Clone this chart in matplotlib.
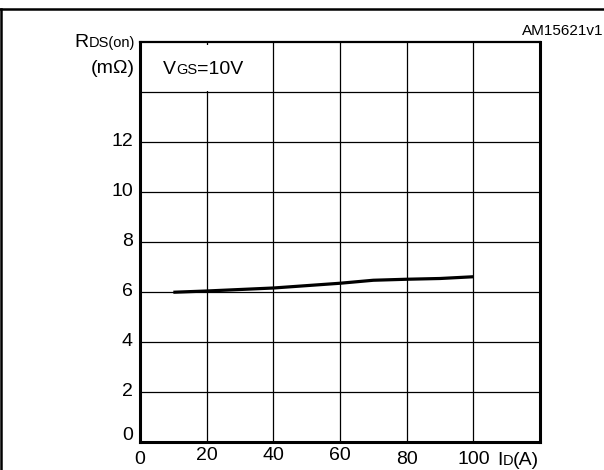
import matplotlib.pyplot as plt
from matplotlib.patches import Rectangle
from matplotlib.lines import Line2D

plt.rcParams['font.family'] = ['Liberation Sans', 'DejaVu Sans']

# curve
id_amps = [10, 20, 40, 60, 70, 80, 90, 100]
rds_on = [5.99, 6.04, 6.16, 6.35, 6.47, 6.51, 6.54, 6.61]

x_ticks = [0, 20, 40, 60, 80, 100, 120]
x_labels = ['0', '20', '40', '60', '80', '100', '']
x_label_shift = [0, 5, 5, 5, 0, 0, 0]  # a few labels sit slightly higher
y_ticks = [0, 2, 4, 6, 8, 10, 12, 14, 16]
y_labels = ['0', '2', '4', '6', '8', '10', '12', '', '']

W, H = 604, 470
BIG, SMALL = 14, 10.5
fig = plt.figure(figsize=(W / 100, H / 100), dpi=100)
renderer = fig.canvas.get_renderer()


def mixed(parts, x_px, y_px, ha='left'):
    # pieces of text in two sizes set one after another on one baseline
    texts = [fig.text(0, 1 - y_px / H, s, fontsize=size, va='baseline', zorder=3)
             for s, size in parts]
    widths = [t.get_window_extent(renderer).width for t in texts]
    x = x_px - sum(widths) if ha == 'right' else x_px
    for t, w in zip(texts, widths):
        t.set_x(x / W)
        x += w


# outer frame of the figure panel
fig.add_artist(Line2D([0, 1], [1 - 9 / H, 1 - 9 / H], color='black', lw=1.8))
fig.add_artist(Line2D([1.2 / W, 1.2 / W], [0, 1 - 9 / H], color='black', lw=1.8))
# cut-off caption above the panel
fig.text(46 / W, 1 + 5 / H, 'Figure', fontsize=14, fontweight='bold', va='baseline')

ax = fig.add_axes([140 / W, 28 / H, 400 / W, 400 / H])
ax.set_xlim(0, 120)
ax.set_ylim(0, 16)

for x in x_ticks[1:-1]:
    ax.axvline(x, color='black', lw=0.9, zorder=1)
for y in y_ticks[1:-1]:
    ax.axhline(y, color='black', lw=0.9, zorder=1)

# white label box that hides the grid in the corner
ax.add_patch(Rectangle((2.4, 14.05), 35.1, 1.85, facecolor='white',
                       edgecolor='none', zorder=2))

ax.plot(id_amps, rds_on, color='black', lw=2.3, solid_capstyle='butt', zorder=4)

ax.set_xticks([])
ax.set_yticks([])
for side in ['left', 'bottom', 'right']:
    ax.spines[side].set_linewidth(2.2)
ax.spines['top'].set_linewidth(1.6)

for x, lab, dy in zip(x_ticks, x_labels, x_label_shift):
    ax.annotate(lab, xy=(x, 0), xycoords='data', xytext=(0, -18 + dy),
                textcoords='offset pixels', ha='center', va='center', fontsize=BIG)
for y, lab in zip(y_ticks, y_labels):
    off = 6 if y == 0 else 0
    ax.annotate(lab, xy=(0, y), xycoords='data', xytext=(-7, off),
                textcoords='offset pixels', ha='right', va='center', fontsize=BIG)

mixed([('V', BIG), ('GS', SMALL), ('=10V', BIG)], 163, 74)
mixed([('I', BIG), ('D', SMALL), ('(A)', BIG)], 497, 465)
mixed([('R', BIG), ('DS(on)', SMALL)], 135, 47, ha='right')
mixed([('(m\u03a9)', BIG)], 135, 73, ha='right')

fig.text(1 - 1 / W, 1 - 35 / H, 'AM15621v1', fontsize=11, va='baseline', ha='right')

fig.savefig('out.png', dpi=100)
